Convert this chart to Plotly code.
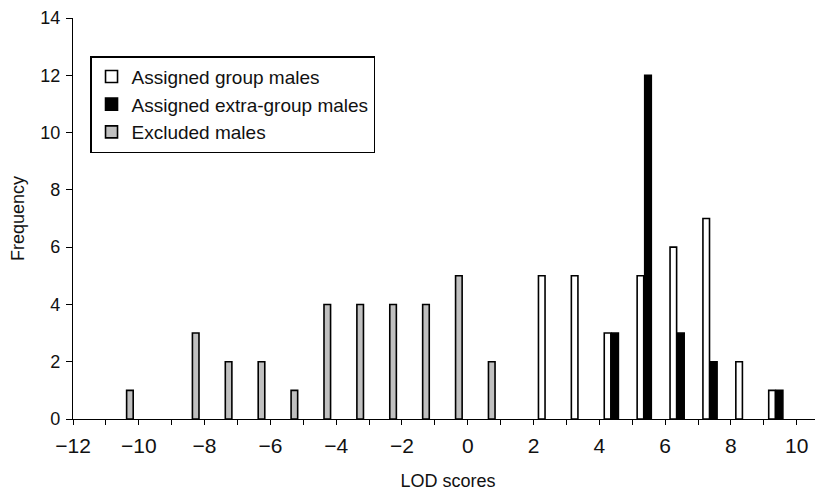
import plotly.graph_objects as go

# Data (LOD score bins and frequencies)
excluded_bins = [-10, -8, -7, -6, -5, -4, -3, -2, -1, 0, 1]
excluded_freq = [1, 3, 2, 2, 1, 4, 4, 4, 4, 5, 2]

group_bins = [2, 3, 4, 5, 6, 7, 8, 9]
group_freq = [5, 5, 3, 5, 6, 7, 2, 1]

extra_bins = [4, 5, 6, 7, 9]
extra_freq = [3, 12, 3, 2, 1]

x_tick_vals = list(range(-12, 11))
x_tick_text = [("−" + str(-v) if v < 0 else str(v)) if v % 2 == 0 else "" for v in x_tick_vals]
y_tick_vals = [0, 2, 4, 6, 8, 10, 12, 14]

# style constants (bar placement within each bin)
OFF_GROUP = 0.25
OFF_EXTRA = 0.48
OFF_EXCL = -0.27
BAR_W = 0.2
FONT = "Liberation Sans, Arial, sans-serif"
TXT = "#111111"

fig = go.Figure()
fig.add_trace(go.Bar(
    name="Assigned group males",
    x=[b + OFF_GROUP for b in group_bins], y=group_freq, width=BAR_W,
    marker=dict(color="white", line=dict(color="black", width=1.6)),
))
fig.add_trace(go.Bar(
    name="Assigned extra-group males",
    x=[b + OFF_EXTRA for b in extra_bins], y=extra_freq, width=BAR_W,
    marker=dict(color="black", line=dict(color="black", width=1.6)),
))
fig.add_trace(go.Bar(
    name="Excluded males",
    x=[b + OFF_EXCL for b in excluded_bins], y=excluded_freq, width=BAR_W,
    marker=dict(color="#c0c0c0", line=dict(color="black", width=1.6)),
))

# the page body adds an 8px offset, so the figure is sized to the remaining space
fig.update_layout(
    width=815, height=483,
    margin=dict(l=65, r=0, t=10, b=72, autoexpand=False),
    paper_bgcolor="white", plot_bgcolor="white",
    barmode="overlay",
    font=dict(family=FONT, color=TXT),
    showlegend=True,
    legend=dict(
        x=0.0227, y=0.905, xanchor="left", yanchor="top",
        bordercolor="black", borderwidth=1.5, bgcolor="white",
        font=dict(size=19, family=FONT, color=TXT),
        traceorder="normal",
    ),
    xaxis=dict(
        range=[-12, 10.8], tickmode="array", tickvals=x_tick_vals, ticktext=x_tick_text,
        ticks="outside", ticklen=5, tickwidth=1.3, tickcolor="black",
        showline=True, linecolor="black", linewidth=1.3,
        showgrid=False, zeroline=False, automargin=False,
        tickfont=dict(size=21, family=FONT, color=TXT), ticklabelstandoff=3,
        title=dict(text="LOD scores", font=dict(size=18, family=FONT, color=TXT), standoff=18),
    ),
    yaxis=dict(
        range=[0, 14], tickmode="array", tickvals=y_tick_vals,
        ticks="outside", ticklen=6, tickwidth=1.3, tickcolor="black",
        showline=True, linecolor="black", linewidth=1.3,
        showgrid=False, zeroline=False, automargin=False,
        tickfont=dict(size=18, family=FONT, color=TXT), ticklabelstandoff=2,
        title=dict(text="Frequency", font=dict(size=18, family=FONT, color=TXT), standoff=12),
    ),
)

fig.write_html("out.html")
